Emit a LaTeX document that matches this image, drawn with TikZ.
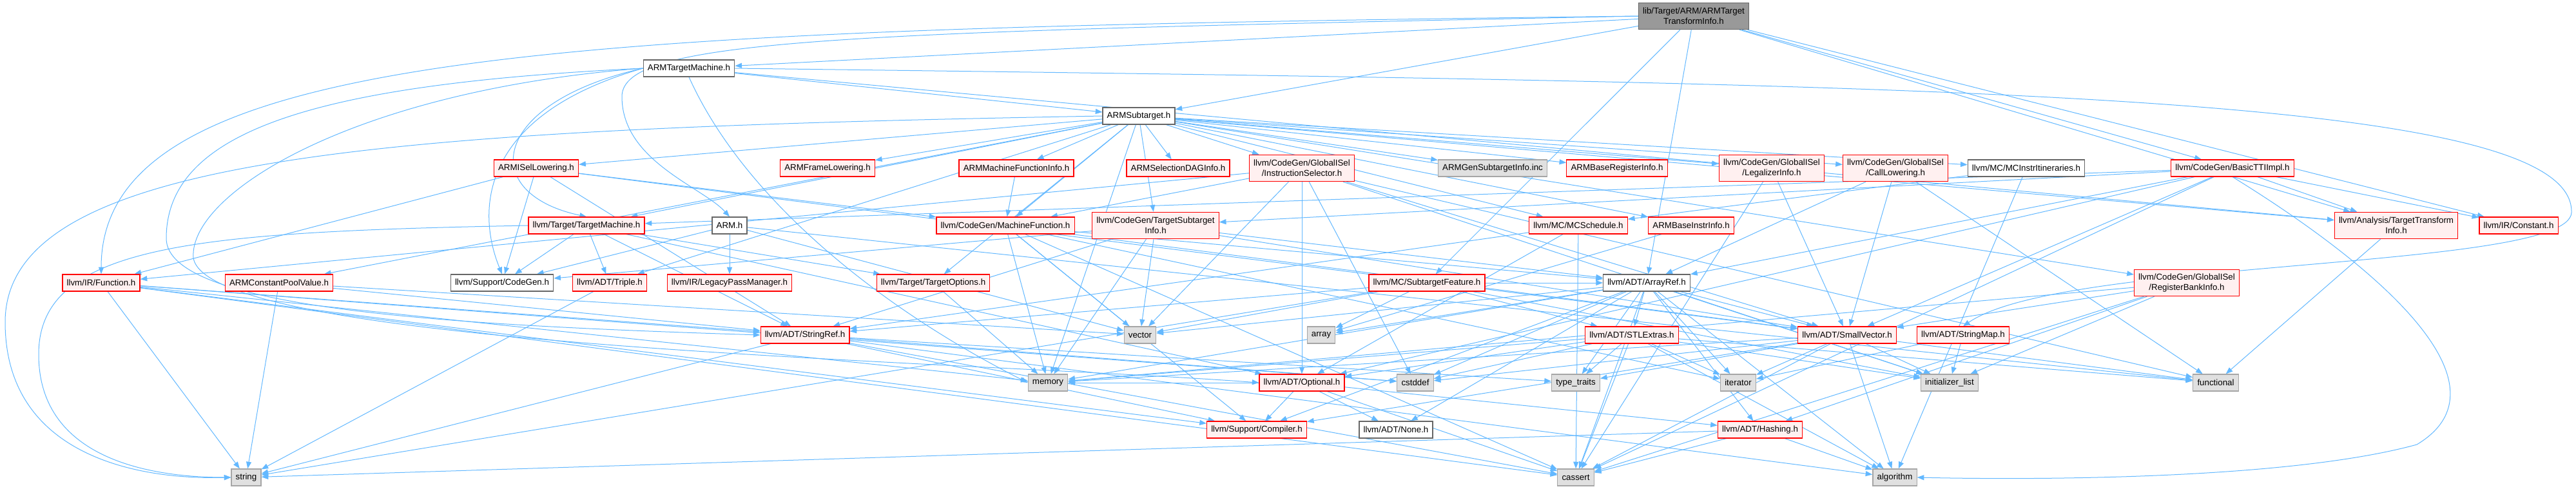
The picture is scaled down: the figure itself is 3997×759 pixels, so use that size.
\documentclass[tikz,border=0pt]{standalone}
\usepackage{fontspec}
\setmainfont{Liberation Sans}
\usetikzlibrary{arrows.meta, positioning}
\definecolor{edgeblue}{RGB}{99,184,255}
\definecolor{hdrfill}{RGB}{255,240,240}
\definecolor{sysfill}{RGB}{224,224,224}
\definecolor{rootfill}{RGB}{153,153,153}
\pgfdeclarelayer{background}
\pgfsetlayers{background,main}

\tikzset{
  box/.style={rectangle, font=\fontsize{10}{12}\selectfont, inner xsep=5pt,
    inner ysep=0pt, minimum height=19.5pt, align=center, line width=0.9pt},
  hdr/.style={box, draw=red, fill=hdrfill},
  hdrok/.style={box, draw=black!60, fill=white},
  sys/.style={box, draw=black!35, fill=sysfill},
  rootnode/.style={box, draw=black!60, fill=rootfill},
  twoline/.style={minimum height=31pt},
  edge/.style={draw=edgeblue, line width=0.75pt,
    -{Triangle[length=8pt,width=6pt]}},
}

\begin{document}
\begin{tikzpicture}[x=0.75pt, y=-0.75pt]
\useasboundingbox (0,0) rectangle (3997,759);
% rank 0 and 1
\node[rootnode, twoline] (root) at (2628,25) {lib/Target/ARM/ARMTarget\\TransformInfo.h};
\node[hdrok] (armtm) at (1069,106) {ARMTargetMachine.h};
\node[hdrok] (armst) at (1767,180) {ARMSubtarget.h};
% rank 2
\node[hdr] (isel) at (832,261) {ARMISelLowering.h};
\node[hdr] (framelow) at (1284,261) {ARMFrameLowering.h};
\node[hdr] (mfinfo) at (1577,261) {ARMMachineFunctionInfo.h};
\node[hdr] (seldag) at (1828,261) {ARMSelectionDAGInfo.h};
\node[hdr, twoline] (instsel) at (2020,261) {llvm/CodeGen/GlobalISel\\/InstructionSelector.h};
\node[sys] (gensti) at (2316,261) {ARMGenSubtargetInfo.inc};
\node[hdr] (basereg) at (2509,261) {ARMBaseRegisterInfo.h};
\node[hdr, twoline] (legal) at (2749,261) {llvm/CodeGen/GlobalISel\\/LegalizerInfo.h};
\node[hdr, twoline] (calllow) at (2941,261) {llvm/CodeGen/GlobalISel\\/CallLowering.h};
\node[hdrok] (itin) at (3144,261) {llvm/MC/MCInstrItineraries.h};
\node[hdr] (basictti) at (3464,261) {llvm/CodeGen/BasicTTIImpl.h};
% rank 3
\node[hdr] (tm) at (910,350) {llvm/Target/TargetMachine.h};
\node[hdrok] (arm) at (1132,350) {ARM.h};
\node[hdr] (mf) at (1560,350) {llvm/CodeGen/MachineFunction.h};
\node[hdr, twoline] (tsi) at (1793,350) {llvm/CodeGen/TargetSubtarget\\Info.h};
\node[hdr] (sched) at (2449,350) {llvm/MC/MCSchedule.h};
\node[hdr] (baseinstr) at (2624,350) {ARMBaseInstrInfo.h};
\node[hdr, twoline] (tti) at (3718,350) {llvm/Analysis/TargetTransform\\Info.h};
\node[hdr] (constant) at (3908,350) {llvm/IR/Constant.h};
% rank 4
\node[hdr] (func) at (157,439) {llvm/IR/Function.h};
\node[hdr] (cpv) at (433,439) {ARMConstantPoolValue.h};
\node[hdrok] (cgen) at (779,439) {llvm/Support/CodeGen.h};
\node[hdr] (triple) at (946,439) {llvm/ADT/Triple.h};
\node[hdr] (lpm) at (1132,439) {llvm/IR/LegacyPassManager.h};
\node[hdr] (topts) at (1448,439) {llvm/Target/TargetOptions.h};
\node[hdr] (stfeat) at (2214,439) {llvm/MC/SubtargetFeature.h};
\node[hdrok] (aref) at (2555,439) {llvm/ADT/ArrayRef.h};
\node[hdr, twoline] (rbi) at (3393,439) {llvm/CodeGen/GlobalISel\\/RegisterBankInfo.h};
% rank 5
\node[hdr] (sref) at (1249,520) {llvm/ADT/StringRef.h};
\node[sys] (vector) at (1769,520) {vector};
\node[sys] (array) at (2050,520) {array};
\node[hdr] (stlx) at (2532,520) {llvm/ADT/STLExtras.h};
\node[hdr] (svec) at (2866,520) {llvm/ADT/SmallVector.h};
\node[hdr] (smap) at (3046,520) {llvm/ADT/StringMap.h};
% rank 6
\node[sys] (memory) at (1626,594) {memory};
\node[hdr] (optional) at (2020,594) {llvm/ADT/Optional.h};
\node[sys] (cstddef) at (2196,594) {cstddef};
\node[sys] (ttraits) at (2445,594) {type\_traits};
\node[sys] (iterator) at (2697,594) {iterator};
\node[sys] (initlist) at (3025,594) {initializer\_list};
\node[sys] (functional) at (3438,594) {functional};
% rank 7
\node[hdr] (compiler) at (1950,667) {llvm/Support/Compiler.h};
\node[hdrok] (none) at (2166,667) {llvm/ADT/None.h};
\node[hdr] (hashing) at (2731,667) {llvm/ADT/Hashing.h};
% rank 8
\node[sys] (string) at (382,741) {string};
\node[sys] (cassert) at (2445,741) {cassert};
\node[sys] (algorithm) at (2940,741) {algorithm};

\begin{pgfonlayer}{background}
% root
\foreach \t in {armtm,armst,aref,tti,basictti,constant,stfeat}
  \draw[edge] (root) -- (\t);
\draw[edge] (root.west) .. controls (900,45) and (157,70) .. (func.north);
\draw[edge] (root.west) .. controls (1300,50) and (965,60) .. (965,150)
  .. controls (965,250) and (1090,290) .. (arm.north);
% ARMTargetMachine
\foreach \t in {armst,tti}
  \draw[edge] (armtm) -- (\t);
\draw[edge] (armtm.south) .. controls (1150,300) and (1350,470) .. (memory.west);
\draw[edge] (armtm.west) .. controls (760,160) and (740,300) .. (tm.north);
\draw[edge] (armtm.west) .. controls (740,180) and (740,330) .. (cgen.north);
\draw[edge] (armtm.west) .. controls (500,130) and (258,200) .. (258,370)
  .. controls (258,480) and (700,505) .. (sref.west);
\draw[edge] (armtm.west) .. controls (550,140) and (293,300) .. (300,400)
  .. controls (320,540) and (1500,560) .. (optional.west);
\draw[edge] (armtm.east) .. controls (3000,130) and (3995,140) .. (3990,330)
  .. controls (3985,420) and (3200,400) .. (smap.north);
% ARMSubtarget
\foreach \t in {baseinstr,basereg,cpv,framelow,isel,mfinfo,seldag,triple,tti,
  calllow,instsel,legal,rbi,mf,tsi,itin,sched,tm,topts,memory,gensti}
  \draw[edge] (armst) -- (\t);
\draw[edge] (armst.west) .. controls (600,200) and (8,240) .. (8,500)
  .. controls (8,700) and (200,745) .. (string.west);
% rank 2 sources
\foreach \t in {svec,sref,mf,func,cgen}
  \draw[edge] (isel) -- (\t);
\draw[edge] (mfinfo) -- (mf);
\foreach \t in {optional,svec,mf,func,cstddef,functional,initlist,vector}
  \draw[edge] (instsel) -- (\t);
\foreach \t in {svec,cassert}
  \draw[edge] (legal) -- (\t);
\foreach \t in {aref,svec,functional}
  \draw[edge] (calllow) -- (\t);
\foreach \t in {sched,algorithm}
  \draw[edge] (itin) -- (\t);
\foreach \t in {aref,optional,svec,tti,tsi,constant,tm,cassert}
  \draw[edge] (basictti) -- (\t);
\draw[edge] (basictti.south) .. controls (3700,420) and (3900,600) .. (3750,690)
  .. controls (3550,745) and (3150,745) .. (algorithm.east);
% rank 3 sources
\foreach \t in {optional,sref,triple,cgen,topts}
  \draw[edge] (tm) -- (\t);
\draw[edge] (tm.west) .. controls (300,360) and (60,380) .. (60,550)
  .. controls (60,720) and (250,741) .. (string.west);
\foreach \t in {lpm,cgen,functional,vector}
  \draw[edge] (arm) -- (\t);
\foreach \t in {aref,svec,iterator,compiler,cassert,memory,vector}
  \draw[edge] (mf) -- (\t);
\foreach \t in {aref,svec,sref,cgen,memory,vector}
  \draw[edge] (tsi) -- (\t);
\foreach \t in {optional,sref,cassert}
  \draw[edge] (sched) -- (\t);
\draw[edge] (baseinstr) -- (array);
\draw[edge] (tti) -- (functional);
% rank 4 sources
\foreach \t in {sref,compiler,cassert,cstddef,memory,string}
  \draw[edge] (func) -- (\t);
\foreach \t in {sref,string,vector}
  \draw[edge] (cpv) -- (\t);
\draw[edge] (triple) -- (string);
\draw[edge] (topts) -- (memory);
\foreach \t in {aref,stlx,sref,array,initlist,string,vector}
  \draw[edge] (stfeat) -- (\t);
\foreach \t in {hashing,none,svec,stlx,compiler,algorithm,array,cassert,
  cstddef,initlist,iterator,memory,ttraits,vector}
  \draw[edge] (aref) -- (\t);
\foreach \t in {hashing,svec,cassert,initlist,memory}
  \draw[edge] (rbi) -- (\t);
% rank 5 sources
\foreach \t in {compiler,algorithm,cassert,cstddef,string,ttraits}
  \draw[edge] (sref) -- (\t);
\foreach \t in {optional,algorithm,cassert,cstddef,functional,initlist,
  iterator,memory,ttraits}
  \draw[edge] (stlx) -- (\t);
\foreach \t in {compiler,algorithm,cassert,cstddef,functional,initlist,
  iterator,memory,ttraits}
  \draw[edge] (svec) -- (\t);
\foreach \t in {iterator,initlist}
  \draw[edge] (smap) -- (\t);
% rank 6 and 7 sources
\foreach \t in {hashing,none,compiler,cassert,memory}
  \draw[edge] (optional) -- (\t);
\foreach \t in {algorithm,cassert,string}
  \draw[edge] (hashing) -- (\t);
\end{pgfonlayer}
\end{tikzpicture}
\end{document}
